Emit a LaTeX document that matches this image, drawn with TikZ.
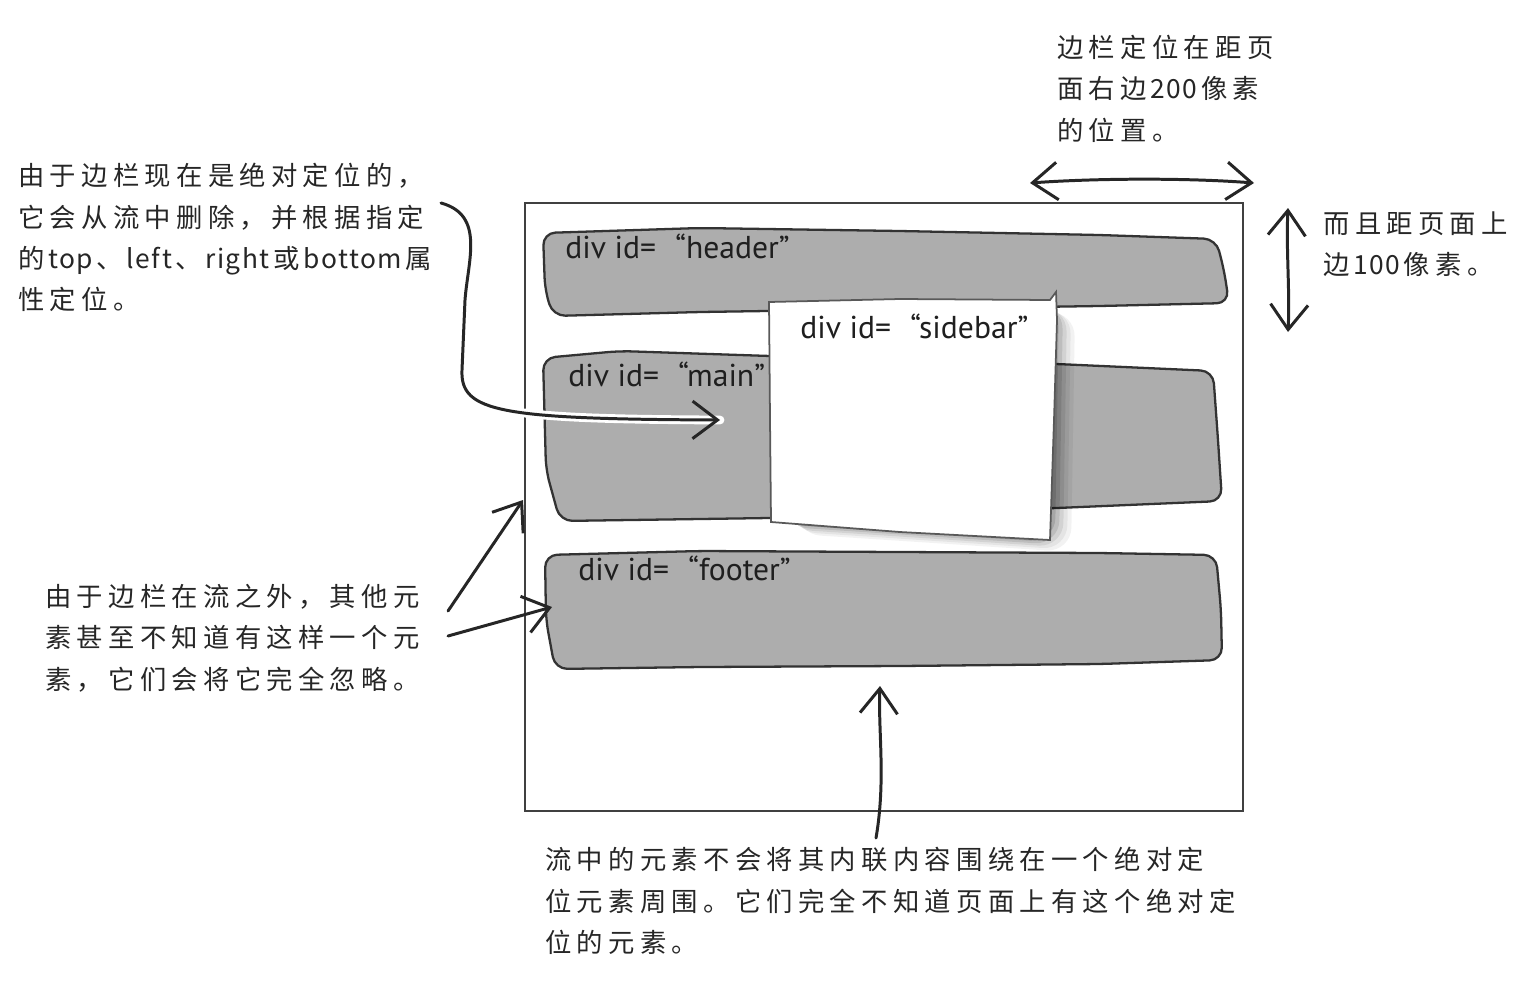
\documentclass[tikz,border=0pt]{standalone}
\usepackage{fontspec}
\setmainfont{PT Sans}
\newfontfamily\cjk[LetterSpace=20]{Noto Sans CJK SC}
\newfontfamily\cjklat[LetterSpace=6]{Noto Sans CJK SC}
\usetikzlibrary{arrows.meta}

\tikzset{
  note/.style={anchor=north west, inner sep=0pt, align=left, text=black!85,
    font=\cjk\fontsize{15}{23.5}\selectfont},
  divlabel/.style={anchor=base west, inner sep=0pt, text=black!88,
    font=\fontsize{18}{20}\selectfont},
  bar/.style={draw=black!80, line width=1.3pt, fill=black!32, rounded corners=7pt},
  hand/.style={draw=black!85, line width=1.7pt, line cap=round,
    -{Straight Barb[length=0.5cm,width=0.75cm]}},
  twohand/.style={hand, {Straight Barb[length=0.5cm,width=0.75cm]}-{Straight Barb[length=0.5cm,width=0.75cm]}},
}
\newcommand{\divid}[1]{div id=\hspace{11pt}“#1”}
\newcommand{\lat}[1]{\hspace{2pt}{\cjklat #1}\hspace{2pt}}

\begin{document}
\begin{tikzpicture}[x=0.02cm,y=-0.02cm]
\useasboundingbox (0,0) rectangle (1533,994);

% page
\draw [black!75, line width=1.1pt] (525,203) rectangle (1243,811);

% flow boxes
\path [bar] (543,233) -- (700,228) -- (900,231) -- (1100,235) -- (1216,239) -- (1224,270) -- (1229,303)
  -- (1100,306) -- (900,309) -- (700,312) -- (553,316) -- (545,290) -- cycle;
\path [bar] (543,358) -- (620,351) -- (770,356) -- (1057,364) -- (1213,371) -- (1218,440) -- (1222,501)
  -- (1057,508) -- (770,518) -- (560,521) -- (546,470) -- cycle;
\path [bar] (545,555) -- (700,551) -- (900,552) -- (1100,553) -- (1216,555) -- (1221,610) -- (1222,660)
  -- (1100,664) -- (900,666) -- (700,667) -- (555,669) -- (546,620) -- cycle;

\node [divlabel] (hdr) at (565,258) {\divid{header}};
\node [divlabel] (mn) at (568,386) {\divid{main}};
\node [divlabel] (ftr) at (578,580) {\divid{footer}};

% note about removal from flow
\node [note] (absnote) at (18,163) {由于边栏现在是绝对定位的，\\它会从流中删除，并根据指定\\的\lat{top}、\lat{left}、\lat{right}或\lat{bottom}属\\性定位。};
\coordinate (absstart) at (441,203);
\coordinate (absend) at (720,420);
\draw [white, line width=5pt, line cap=round] (absstart) .. controls (485,215) and (468,260) .. (465,300)
  -- (462,370) .. controls (460,412) and (500,419) .. (absend);
\draw [hand] (absstart) .. controls (485,215) and (468,260) .. (465,300)
  -- (462,370) .. controls (460,412) and (500,419) .. (absend);

% positioned sidebar
\foreach \o/\op in {20/0.05,16/0.06,12/0.08,8/0.1,4/0.12}
  \fill [black, opacity=\op, rounded corners=14pt, xshift={\o*0.02cm}, yshift={-\o*0.012cm}]
    (771,306) -- (1055,300) -- (1051,540) -- (776,522) -- cycle;
\draw [black!65, line width=1pt, fill=white] (769,302) -- (900,299) -- (1050,300) -- (1056,292) -- (1057,320)
  -- (1054,420) -- (1050,540) -- (900,532) -- (771,522) -- (770,420) -- cycle;
\node [divlabel] (sbr) at (800,338) {\divid{sidebar}};

% offsets from the page edges
\node [note] (rightnote) at (1057,35) {边栏定位在距页\\面右边\lat{200}像素\\的位置。};
\coordinate (hleft) at (1030,183);
\coordinate (hright) at (1254,183);
\draw [twohand] (hleft) .. controls (1100,178) and (1190,178) .. (hright);

\node [note] (topnote) at (1323,211) {而且距页面上\\边\lat{100}像素。};
\coordinate (vtop) at (1288,208);
\coordinate (vbot) at (1288,332);
\draw [twohand] (vtop) .. controls (1286,250) and (1290,290) .. (vbot);

% other elements ignore it
\node [note] (flownote) at (45,584) {由于边栏在流之外，其他元\\素甚至不知道有这样一个元\\素，它们会将它完全忽略。};
\coordinate (mainedge) at (523,500);
\coordinate (footedge) at (552,607);
\draw [hand] (448,611) coordinate (flowa) -- (mainedge);
\draw [hand] (448,636) coordinate (flowb) -- (footedge);

\node [note] (wrapnote) at (545,847) {流中的元素不会将其内联内容围绕在一个绝对定\\位元素周围。它们完全不知道页面上有这个绝对定\\位的元素。};
\coordinate (wrapstart) at (876,838);
\coordinate (wrapend) at (880,686);
\draw [hand] (wrapstart) .. controls (886,780) and (878,730) .. (wrapend);
\end{tikzpicture}
\end{document}
